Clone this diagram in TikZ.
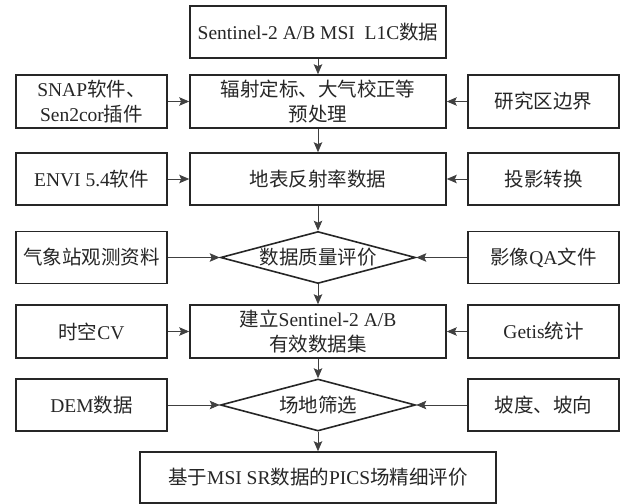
\documentclass[tikz,border=0pt]{standalone}
\usepackage{fontspec}
\setmainfont{Liberation Serif}
\newfontfamily\cjk{Noto Sans CJK SC}
\usetikzlibrary{shapes.geometric,arrows.meta}
\newcommand\zh[1]{{\cjk #1}}
\tikzset{
  box/.style={draw=black!85, line width=1.6pt, inner sep=0pt, align=center,
    font=\fontsize{19.5}{25}\selectfont, text=black!85},
  sidebox/.style={box, minimum width=151pt, minimum height=52pt},
  mainbox/.style={box, minimum width=256pt, minimum height=52pt},
  decision/.style={box, diamond, aspect=3.75, minimum width=195pt, minimum height=52pt},
  arr/.style={draw=black!75, line width=0.8pt, -{Stealth[length=10pt,width=8.5pt,inset=2pt]}}
}
\begin{document}
\begin{tikzpicture}[x=1pt,y=-1pt]
\useasboundingbox (0,0) rectangle (622,504);
% main column
\node[mainbox] (n1) at (318,32) {Sentinel-2 A/B MSI\ \ L1C\zh{数据}};
\node[mainbox, minimum height=53pt] (n2) at (318,101.5) {\zh{辐射定标、大气校正等}\\\zh{预处理}};
\node[mainbox] (n3) at (318,179) {\zh{地表反射率数据}};
\node[decision] (n4) at (318,257.5) {\zh{数据质量评价}};
\node[mainbox, minimum height=53pt] (n5) at (318,331.5) {\zh{建立}Sentinel-2 A/B\\\zh{有效数据集}};
\node[decision] (n6) at (318,405) {\zh{场地筛选}};
\node[box, minimum width=356pt, minimum height=51pt] (n7) at (318,477.5) {\zh{基于}MSI SR\zh{数据的}PICS\zh{场精细评价}};
% left column
\node[sidebox, minimum height=53pt] (l2) at (91.5,101.5) {SNAP\zh{软件、}\\Sen2cor\zh{插件}};
\node[sidebox] (l3) at (91.5,179) {ENVI 5.4\zh{软件}};
\node[sidebox] (l4) at (91.5,257.5) {\zh{气象站观测资料}};
\node[sidebox, minimum height=53pt] (l5) at (91.5,331.5) {\zh{时空}CV};
\node[sidebox] (l6) at (91.5,405) {DEM\zh{数据}};
% right column
\node[sidebox, minimum height=53pt] (r2) at (543.5,101.5) {\zh{研究区边界}};
\node[sidebox] (r3) at (543.5,179) {\zh{投影转换}};
\node[sidebox] (r4) at (543.5,257.5) {\zh{影像}QA\zh{文件}};
\node[sidebox, minimum height=53pt] (r5) at (543.5,331.5) {Getis\zh{统计}};
\node[sidebox] (r6) at (543.5,405) {\zh{坡度、坡向}};
% vertical arrows
\draw[arr] (n1) -- (n2);
\draw[arr] (n2) -- (n3);
\draw[arr] (n3) -- (n4.north);
\draw[arr] (n4.south) -- (n5);
\draw[arr] (n5) -- (n6.north);
\draw[arr] (n6.south) -- (n7);
% horizontal arrows
\draw[arr] (l2) -- (n2);
\draw[arr] (l3) -- (n3);
\draw[arr] (l4) -- (n4.west);
\draw[arr] (l5) -- (n5);
\draw[arr] (l6) -- (n6.west);
\draw[arr] (r2) -- (n2);
\draw[arr] (r3) -- (n3);
\draw[arr] (r4) -- (n4.east);
\draw[arr] (r5) -- (n5);
\draw[arr] (r6) -- (n6.east);
\end{tikzpicture}
\end{document}
